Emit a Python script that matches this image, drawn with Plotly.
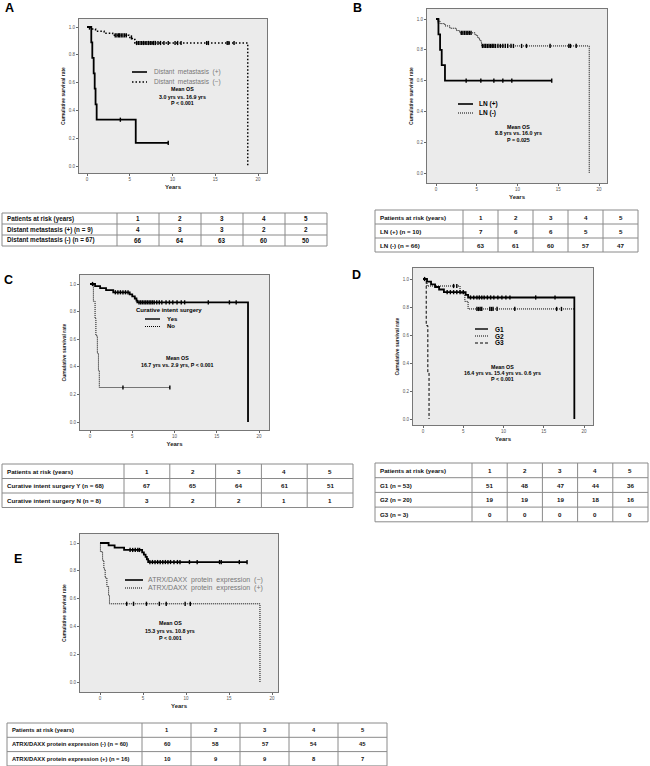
import plotly.graph_objects as go

W, H = 650, 766

# ---------------- data ----------------
years = [1, 2, 3, 4, 5]
x_ticks = [0, 5, 10, 15, 20]
y_ticks = [0.0, 0.2, 0.4, 0.6, 0.8, 1.0]

# A: distant metastasis
a_pos_t = [0, 0.5, 0.62, 0.78, 0.9, 1.0, 1.13, 5.7, 9.5]
a_pos_s = [1.0, 0.889, 0.778, 0.667, 0.556, 0.444, 0.333, 0.167, 0.167]
a_pos_c = [3.9, 9.5]
a_neg_t = [0, 0.3, 1.0, 2.0, 3.0, 4.9, 5.3, 5.6, 18.8]
a_neg_s = [1.0, 0.985, 0.970, 0.955, 0.940, 0.925, 0.910, 0.885, 0.0]
a_neg_c = [3.3, 3.5, 3.7, 3.8, 4.0, 4.2, 4.4, 4.6, 5.2, 5.8, 6.0, 6.2, 6.4, 6.6,
           6.8, 7.0, 7.2, 7.4, 7.6, 7.8, 8.0, 8.3, 8.6, 9.0, 9.5, 10.3, 10.6,
           11.0, 14.0, 14.2, 16.4, 16.6, 17.2]
a_rows = ["Distant metastasis (+) (n = 9)", "Distant metastasis (-) (n = 67)"]
a_risk = [[4, 3, 3, 2, 2], [66, 64, 63, 60, 50]]

# B: lymph node
b_pos_t = [0, 0.3, 0.5, 0.7, 1.1, 14.2]
b_pos_s = [1.0, 0.9, 0.8, 0.7, 0.6, 0.6]
b_pos_c = [3.7, 5.5, 7.1, 8.2, 9.3, 14.2]
b_neg_t = [0, 0.2, 0.5, 1.1, 1.7, 2.5, 2.9, 4.8, 5.1, 5.3, 5.5, 5.6, 18.8]
b_neg_s = [1.0, 0.985, 0.97, 0.955, 0.94, 0.925, 0.91, 0.895, 0.88, 0.865,
           0.85, 0.825, 0.0]
b_neg_c = [0.3, 3.1, 3.3, 3.5, 3.7, 3.9, 4.1, 4.3, 5.7, 5.9, 6.1, 6.3, 6.5, 6.7,
           6.9, 7.1, 7.3, 7.6, 7.9, 8.2, 8.5, 8.8, 9.2, 9.5, 10.5, 11.1, 14.0,
           16.3, 16.5, 17.2]
b_rows = ["LN (+) (n = 10)", "LN (-) (n = 66)"]
b_risk = [[7, 6, 6, 5, 5], [63, 61, 60, 57, 47]]

# C: curative intent surgery
c_yes_t = [0, 0.6, 1.2, 1.9, 2.75, 4.7, 5.0, 5.3, 5.5, 5.6, 18.7]
c_yes_s = [1.0, 0.985, 0.97, 0.955, 0.94, 0.925, 0.91, 0.895, 0.88, 0.867, 0.0]
c_yes_c = [0.3, 3.0, 3.3, 3.6, 3.9, 4.2, 4.5, 5.8, 6.0, 6.2, 6.4, 6.6, 6.8, 7.0,
           7.2, 7.4, 7.6, 7.9, 8.2, 8.5, 9.0, 9.4, 9.8, 10.3, 10.8, 11.2, 14.0,
           16.5, 17.3]
c_no_t = [0, 0.4, 0.6, 0.7, 0.87, 1.0, 1.1, 9.45]
c_no_s = [1.0, 0.875, 0.75, 0.625, 0.5, 0.375, 0.25, 0.25]
c_no_c = [3.9, 9.45]
c_rows = ["Curative intent surgery Y (n = 68)", "Curative intent surgery N (n = 8)"]
c_risk = [[67, 65, 64, 61, 51], [3, 2, 2, 1, 1]]

# D: grade
d_g1_t = [0, 0.5, 1.0, 1.5, 2.0, 2.6, 5.3, 5.6, 18.8]
d_g1_s = [1.0, 0.981, 0.962, 0.943, 0.925, 0.906, 0.887, 0.868, 0.0]
d_g1_c = [0.2, 3.0, 3.4, 3.8, 4.2, 4.6, 5.0, 5.9, 6.3, 6.7, 7.0, 7.3, 7.6, 8.0,
          8.4, 8.8, 9.3, 9.8, 10.3, 10.8, 14.0, 16.4]
d_g2_t = [0, 0.5, 4.6, 5.2, 5.6, 18.8]
d_g2_s = [1.0, 0.95, 0.897, 0.84, 0.786, 0.786]
d_g2_c = [3.8, 4.2, 6.7, 6.9, 7.1, 7.3, 8.3, 8.5, 8.7, 9.2, 11.4, 16.6, 17.2]
d_g3_t = [0, 0.4, 0.6, 0.75]
d_g3_s = [1.0, 0.667, 0.333, 0.0]
d_rows = ["G1 (n = 53)", "G2 (n = 20)", "G3 (n = 3)"]
d_risk = [[51, 48, 47, 44, 36], [19, 19, 19, 18, 16], [0, 0, 0, 0, 0]]

# E: ATRX/DAXX expression
e_neg_t = [0, 1.0, 1.7, 2.8, 4.9, 5.1, 5.3, 5.45, 5.6, 17.1]
e_neg_s = [1.0, 0.983, 0.967, 0.95, 0.933, 0.917, 0.9, 0.883, 0.863, 0.863]
e_neg_c = [3.5, 3.8, 4.1, 4.4, 4.6, 5.8, 6.1, 6.4, 6.7, 7.0, 7.3, 7.6, 7.9, 8.2,
           8.6, 9.0, 9.3, 10.4, 11.3, 13.9, 14.1, 16.2, 17.1]
e_pos_t = [0, 0.05, 0.3, 0.45, 0.6, 0.8, 1.0, 1.1, 18.6]
e_pos_s = [1.0, 0.9375, 0.875, 0.8125, 0.75, 0.6875, 0.625, 0.5625, 0.0]
e_pos_c = [3.1, 3.9, 5.4, 6.9, 7.7, 9.9, 10.5]
e_rows = ["ATRX/DAXX protein expression (-) (n = 60)",
          "ATRX/DAXX protein expression (+) (n = 16)"]
e_risk = [[60, 58, 57, 54, 45], [10, 9, 9, 8, 7]]

FONT = "Liberation Sans, Arial, sans-serif"

# line styles
DOT_A = "1.5px,2px"
DOT_FINE = "1px,1px"
DASH_G3 = "3px,2px"


def px(x):
    return x / W


def py(y):
    return 1 - y / H


def lin(p, p0, p1, v0, v1):
    return v0 + (p - p0) * (v1 - v0) / (p1 - p0)


def step_level(ts, ss, t):
    lvl = ss[0]
    for ti, si in zip(ts, ss):
        if ti <= t:
            lvl = si
    return lvl


fig = go.Figure()

# panel boxes in pixels: left, top, right, bottom, px of x=0, x=20, px of y=1, y=0
panels = [
    (79, 19, 267, 173, 87, 258, 27, 166),
    (427, 9, 607, 183, 436, 599, 19, 173),
    (80, 275, 269, 430, 90, 259, 284, 422),
    (413, 268, 593, 425, 423, 584, 279, 419),
    (80, 534, 278, 692, 100, 272, 543, 682),
]

for i, (l, t, r, b, x0, x20, y1, y0) in enumerate(panels, start=1):
    sfx = "" if i == 1 else str(i)
    fig.layout["xaxis" + sfx] = dict(
        domain=[px(l), px(r)], anchor="y" + sfx,
        range=[lin(l, x0, x20, 0, 20), lin(r, x0, x20, 0, 20)],
        tickvals=x_ticks, ticks="outside", ticklen=2, tickwidth=1,
        tickcolor="#666", showline=True, linecolor="#777", linewidth=1,
        mirror=True, showgrid=False, zeroline=False,
        tickfont=dict(size=4.5, color="#555", family=FONT),
        title=dict(text="<b>Years</b>", font=dict(size=6, color="#222", family=FONT),
                   standoff=3),
    )
    fig.layout["yaxis" + sfx] = dict(
        domain=[py(b), py(t)], anchor="x" + sfx,
        range=[lin(b, y0, y1, 0, 1), lin(t, y0, y1, 0, 1)],
        tickvals=y_ticks, tickformat=".1f", ticks="outside", ticklen=2,
        tickwidth=1, tickcolor="#666", showline=True, linecolor="#777",
        linewidth=1, mirror=True, showgrid=False, zeroline=False,
        tickfont=dict(size=4.5, color="#555", family=FONT),
        title=dict(text="<b>Cumulative survival rate</b>",
                   font=dict(size=5, color="#222", family=FONT), standoff=3),
    )

curves = [
    (1, a_pos_t, a_pos_s, a_pos_c, "solid", 1.8),
    (1, a_neg_t, a_neg_s, a_neg_c, DOT_A, 1.5),
    (2, b_pos_t, b_pos_s, b_pos_c, "solid", 1.8),
    (2, b_neg_t, b_neg_s, b_neg_c, DOT_FINE, 1.0),
    (3, c_yes_t, c_yes_s, c_yes_c, "solid", 1.8),
    (3, c_no_t, c_no_s, c_no_c, DOT_FINE, 1.0),
    (4, d_g1_t, d_g1_s, d_g1_c, "solid", 1.8),
    (4, d_g2_t, d_g2_s, d_g2_c, DOT_FINE, 1.0),
    (4, d_g3_t, d_g3_s, [], DASH_G3, 1.0),
    (5, e_neg_t, e_neg_s, e_neg_c, "solid", 1.8),
    (5, e_pos_t, e_pos_s, e_pos_c, DOT_FINE, 1.0),
]

for i, ts, ss, cs, dash, w in curves:
    sfx = "" if i == 1 else str(i)
    fig.add_trace(go.Scatter(
        x=ts, y=ss, mode="lines", line=dict(shape="hv", color="black",
                                            dash=dash, width=w),
        xaxis="x" + sfx, yaxis="y" + sfx, showlegend=False, hoverinfo="skip"))
    if cs:
        fig.add_trace(go.Scatter(
            x=cs, y=[step_level(ts, ss, c) for c in cs], mode="markers",
            marker=dict(symbol="line-ns", size=3,
                        line=dict(color="black", width=1.4)),
            xaxis="x" + sfx, yaxis="y" + sfx, showlegend=False,
            hoverinfo="skip"))

shapes = []
annots = []


def text(x, y, s, size, color="black", anchor="center", bold=False):
    annots.append(dict(
        x=px(x), y=py(y), xref="paper", yref="paper", showarrow=False,
        text=f"<b>{s}</b>" if bold else s, xanchor=anchor, yanchor="middle",
        font=dict(size=size, color=color, family=FONT)))


def sample(x0, x1, y, dash, w):
    shapes.append(dict(type="line", xref="paper", yref="paper",
                       x0=px(x0), x1=px(x1), y0=py(y), y1=py(y),
                       line=dict(color="black", dash=dash, width=w)))


# panel letters
for lab, x, y in [("A", 9, 8), ("B", 357, 8), ("C", 8, 280), ("D", 356, 275),
                  ("E", 18, 559)]:
    text(x, y, lab, 12.5, bold=True)

# legends and mean OS notes
sample(132, 147, 72, "solid", 1.6)
sample(132, 147, 82, DOT_A, 1.4)
text(152, 72, "Distant  metastasis  (+)", 6.5, "#777", "left")
text(152, 82, "Distant  metastasis  (\u2212)", 6.5, "#777", "left")
text(182, 89, "Mean OS", 5.3, bold=True)
text(182, 96.5, "3.0 yrs vs. 16.9 yrs", 5.3, bold=True)
text(182, 103.5, "P < 0.001", 5.3, bold=True)

sample(458, 473, 104, "solid", 1.6)
sample(458, 473, 113, DOT_FINE, 1.0)
text(477, 104, "LN (+)", 6.5, anchor="left", bold=True)
text(477, 113, "LN (-)", 6.5, anchor="left", bold=True)
text(518, 127, "Mean OS", 5.3, bold=True)
text(518, 133.5, "8.8 yrs vs. 16.0 yrs", 5.3, bold=True)
text(518, 140, "P = 0.025", 5.3, bold=True)

text(169, 310, "Curative intent surgery", 6, bold=True)
sample(145, 160, 319, "solid", 1.4)
sample(145, 160, 326.5, DOT_FINE, 1.0)
text(165, 319, "Yes", 6, anchor="left", bold=True)
text(165, 326.5, "No", 6, anchor="left", bold=True)
text(177, 358, "Mean OS", 5.3, bold=True)
text(177, 364.5, "16.7 yrs vs. 2.9 yrs, P < 0.001", 5.3, bold=True)

sample(475, 488, 329, "solid", 1.4)
sample(475, 488, 336, DOT_FINE, 1.0)
sample(475, 488, 343, DASH_G3, 1.0)
text(493, 329, "G1", 6.5, anchor="left", bold=True)
text(493, 336, "G2", 6.5, anchor="left", bold=True)
text(493, 343, "G3", 6.5, anchor="left", bold=True)
text(502, 367, "Mean OS", 5.3, bold=True)
text(502, 373, "16.4 yrs vs. 15.4 yrs vs. 0.6 yrs", 5.3, bold=True)
text(502, 379, "P < 0.001", 5.3, bold=True)

sample(125, 143, 580, "solid", 1.6)
sample(125, 143, 588, DOT_FINE, 1.0)
text(146, 580, "ATRX/DAXX  protein  expression  (\u2212)", 7, "#777", "left")
text(146, 588, "ATRX/DAXX  protein  expression  (+)", 7, "#777", "left")
text(170, 623, "Mean OS", 5.3, bold=True)
text(170, 630.5, "15.3 yrs vs. 10.8 yrs", 5.3, bold=True)
text(170, 638, "P < 0.001", 5.3, bold=True)


def draw_table(x0, y0, first_w, col_w, row_h, rows, risk, size):
    n_rows = len(rows) + 1
    x1 = x0 + first_w + col_w * len(years)
    y1 = y0 + row_h * n_rows
    line = dict(color="#8a8a8a", width=1)
    shapes.append(dict(type="rect", xref="paper", yref="paper", x0=px(x0),
                       x1=px(x1), y0=py(y0), y1=py(y1), line=line))
    for k in range(1, n_rows):
        yy = y0 + k * row_h
        shapes.append(dict(type="line", xref="paper", yref="paper", x0=px(x0),
                           x1=px(x1), y0=py(yy), y1=py(yy), line=line))
    for k in range(len(years)):
        xx = x0 + first_w + k * col_w
        shapes.append(dict(type="line", xref="paper", yref="paper", x0=px(xx),
                           x1=px(xx), y0=py(y0), y1=py(y1), line=line))
    labels = ["Patients at risk (years)"] + rows
    cells = [years] + risk
    for r, (lab, vals) in enumerate(zip(labels, cells)):
        yc = y0 + (r + 0.5) * row_h
        text(x0 + 2.5, yc, lab, size, "#111", "left", bold=True)
        for k, v in enumerate(vals):
            text(x0 + first_w + (k + 0.5) * col_w, yc, str(v), size, "#111",
                 bold=True)


draw_table(2, 213, 115, 42, 11, a_rows, a_risk, 6.3)
draw_table(375, 210, 88, 35, 14, b_rows, b_risk, 6.2)
draw_table(2, 464, 122, 45.8, 14.5, c_rows, c_risk, 6.2)
draw_table(375, 463, 97, 35.2, 14.7, d_rows, d_risk, 6.2)
draw_table(7, 723, 135, 49, 14.3, e_rows, e_risk, 5.8)

fig.update_layout(
    width=W, height=H, margin=dict(l=0, r=0, t=0, b=0),
    paper_bgcolor="white", plot_bgcolor="#ebebeb",
    shapes=shapes, annotations=annots, showlegend=False,
    font=dict(family=FONT),
)

# the page body has a default 8px margin; drop it so the figure fills the window
fig.write_html("out.html", config={"displayModeBar": False},
               post_script="document.body.style.margin='0';")
